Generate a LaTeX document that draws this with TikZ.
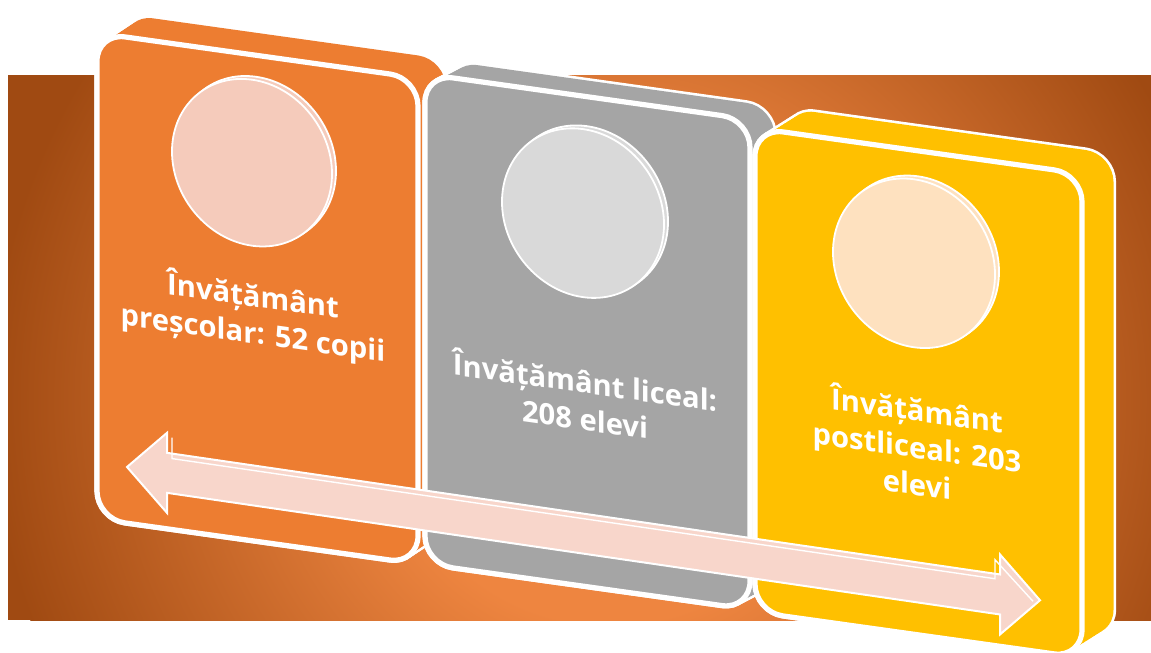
\documentclass[tikz,border=0pt]{standalone}
\usepackage{fontspec}
\setmainfont{Open Sans}
\usepackage{xcolor}
\usetikzlibrary{positioning}
\definecolor{bandlight}{HTML}{EE8540}
\definecolor{banddark}{HTML}{A04A12}
\definecolor{cardorange}{HTML}{ED7D31}
\definecolor{cardgray}{HTML}{A5A5A5}
\definecolor{cardgold}{HTML}{FFC000}
\definecolor{discorange}{HTML}{F5CBBB}
\definecolor{discgray}{HTML}{D9D9D9}
\definecolor{discgold}{HTML}{FEE1BF}
\definecolor{arrowpink}{HTML}{F8D6CB}
\pgfdeclareradialshading{bandglow}{\pgfpoint{0bp}{0bp}}{color(0bp)=(bandlight); color(9bp)=(bandlight); color(25bp)=(banddark); color(50bp)=(banddark)}

\begin{document}
\begin{tikzpicture}[
    x=0.5pt,y=-0.5pt,
    edge/.style = {draw=white,line width=2.6pt},
    face/.style = {rounded corners=14pt},
    disc/.style = {draw=white,line width=0.9pt},
    lbl/.style  = {font=\bfseries\fontsize{14.6}{18.5}\selectfont,text=white,align=center,
                   transform shape,inner sep=0pt},
    dbl/.style  = {-,arrowpink,draw=white,line width=1pt,line join=miter},
  ]
  \useasboundingbox (0,0) rectangle (1151,653);

  % Banda de fundal
  \begin{scope}
    \clip (8,75) rectangle (1151,620);
    \fill[banddark] (8,75) rectangle (1151,620);
    \shade[shading=bandglow] (610,400) circle (620);
  \end{scope}

  % Card 1 - prescolar
  \begin{scope}[shift={(97,33)},yslant=-0.14]
    \foreach \t in {0,0.1,...,1}
      \draw[edge,face] (31*\t,-25*\t) rectangle ++(321,486);
    \foreach \t in {0,0.1,...,1}
      \fill[cardorange,face] (31*\t,-25*\t) rectangle ++(321,486);
    \draw[edge,face,fill=cardorange] (0,0) rectangle (321,486);
    \filldraw[disc,fill=discorange] (159,104.5) ellipse [x radius=80,y radius=83];
    \filldraw[disc,fill=discorange] (155,108) ellipse [x radius=80,y radius=83];
    \node[lbl] (prescolar) at (156,260) {Învățământ\\preșcolar: 52 copii};
  \end{scope}

  % Card 2 - liceal
  \begin{scope}[shift={(425,74)},yslant=-0.14]
    \foreach \t in {0,0.1,...,1}
      \draw[edge,face] (27*\t,-18*\t) rectangle ++(325,490);
    \foreach \t in {0,0.1,...,1}
      \fill[cardgray,face] (27*\t,-18*\t) rectangle ++(325,490);
    \draw[edge,face,fill=cardgray] (0,0) rectangle (325,490);
    \filldraw[disc,fill=discgray] (162,113.5) ellipse [x radius=81,y radius=84];
    \filldraw[disc,fill=discgray] (158,117) ellipse [x radius=81,y radius=84];
    \node[lbl] (liceal) at (160,302) {Învățământ liceal:\\208 elevi};
  \end{scope}

  % Card 3 - postliceal
  \begin{scope}[shift={(755,128)},yslant=-0.14]
    \foreach \t in {0,0.1,...,1}
      \draw[edge,face] (35*\t,-27*\t) rectangle ++(327,484);
    \foreach \t in {0,0.1,...,1}
      \fill[cardgold,face] (35*\t,-27*\t) rectangle ++(327,484);
    \draw[edge,face,fill=cardgold] (0,0) rectangle (327,484);
    \filldraw[disc,fill=discgold] (163,109.5) ellipse [x radius=81,y radius=84];
    \filldraw[disc,fill=discgold] (159,113) ellipse [x radius=81,y radius=84];
    \node[lbl] (postliceal) at (162,294) {Învățământ\\postliceal: 203\\elevi};
  \end{scope}

  % Sageata dubla peste carduri
  \begin{scope}[shift={(127,467)},yslant=-0.146]
    \coordinate (west) at (0,0);
    \coordinate (east) at (913,0);
    \filldraw[dbl] (west) -- (40,-40) -- (40,-20) -- (873,-20) -- (873,-40)
      -- (east) -- (873,40) -- (873,20) -- (40,20) -- (40,40) -- cycle;
    \draw[white,line width=0.7pt] (45,-36) -- (45,-15) -- (868,-15) -- (868,-34) -- (906,2);
  \end{scope}

\end{tikzpicture}
\end{document}
